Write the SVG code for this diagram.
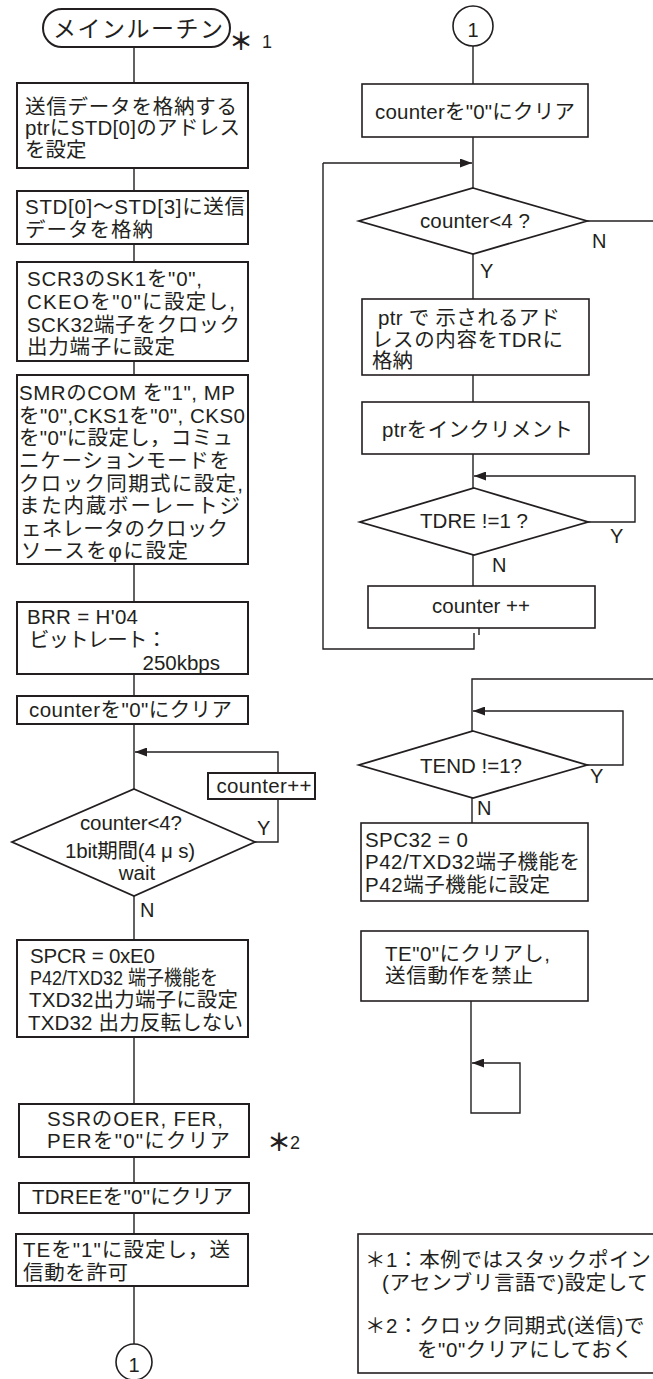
<svg xmlns="http://www.w3.org/2000/svg" width="653" height="1379" viewBox="0 0 653 1379">
<defs>
<style>
text{font-family:"Liberation Sans","Noto Sans CJK JP",sans-serif;font-size:20.5px;fill:#231f20}
.box{fill:#fff;stroke:#231f20;stroke-width:2}
.dia{fill:#fff;stroke:#231f20;stroke-width:1.8}
.ln{fill:none;stroke:#231f20;stroke-width:1.4}
.m{text-anchor:middle}
.e{text-anchor:end}
.lbl{font-size:20px}
.ast{font-size:24px;font-weight:bold}
</style>
<marker id="ah" viewBox="0 0 12 9" refX="12" refY="4.5" markerWidth="12" markerHeight="9" markerUnits="userSpaceOnUse" orient="auto">
<path d="M0,0 L12,4.5 L0,9 z" fill="#231f20"/>
</marker>
</defs>
<rect width="653" height="1379" fill="#fff"/>

<g id="connectors">
<path class="ln" d="M134,47 V83 M134,168 V191 M134,244 V262 M134,361 V375 M134,564 V602 M134,674 V696 M134,724 V789 M134,896 V940 M134,1037 V1104 M134,1157 V1183 M134,1213 V1234 M134,1286 V1344"/>
<path class="ln" d="M255,842 H278 V799"/>
<path class="ln" d="M278,773 V752 H135" marker-end="url(#ah)"/>
<path class="ln" d="M473,46 V84 M473,137 V188 M473,254 V299 M473,375 V402 M473,454 V488 M473,555 V586"/>
<path class="ln" d="M323,163 H472" marker-end="url(#ah)"/>
<path class="ln" d="M474,633 V649 H323 V163"/>
<path class="ln" d="M479,628 V635"/>
<path class="ln" d="M587,221 H653"/>
<path class="ln" d="M588,522 H635 V476 H474" marker-end="url(#ah)"/>
<path class="ln" d="M653,679 H472 V731"/>
<path class="ln" d="M587,765 H623 V711 H473" marker-end="url(#ah)"/>
<path class="ln" d="M472,798 V823"/>
<path class="ln" d="M471,1001 V1113 H520 V1063 H472" marker-end="url(#ah)"/>
</g>

<g id="start">
<rect class="box" x="43" y="9" width="187" height="38" rx="19"/>
<text x="138" y="37" class="m" style="font-size:23px" textLength="170">メインルーチン</text>
</g>
<g id="note1mark"><text x="229" y="50" class="ast">＊</text><text x="262" y="48" style="font-size:18px">1</text></g>

<g id="n1">
<rect class="box" x="17" y="83" width="231" height="85"/>
<text x="25" y="114" textLength="212">送信データを格納する</text>
<text x="25" y="135" textLength="215">ptrにSTD[0]のアドレス</text>
<text x="25" y="157">を設定</text>
</g>

<g id="n2">
<rect class="box" x="17" y="191" width="231" height="53"/>
<text x="25" y="214" textLength="220">STD[0]～STD[3]に送信</text>
<text x="25" y="237" textLength="128">データを格納</text>
</g>

<g id="n3">
<rect class="box" x="17" y="262" width="231" height="99"/>
<text x="27" y="286" textLength="175">SCR3のSK1を"0",</text>
<text x="27" y="309" textLength="208">CKEOを"0"に設定し,</text>
<text x="27" y="332" textLength="213">SCK32端子をクロック</text>
<text x="27" y="354" textLength="148">出力端子に設定</text>
</g>

<g id="n4">
<rect class="box" x="17" y="375" width="231" height="189"/>
<text x="19" y="400" textLength="216">SMRのCOM を"1", MP</text>
<text x="19" y="423" textLength="226">を"0",CKS1を"0", CKS0</text>
<text x="19" y="445" textLength="214">を"0"に設定し，コミュ</text>
<text x="19" y="468" textLength="211">ニケーションモードを</text>
<text x="19" y="491" textLength="224">クロック同期式に設定,</text>
<text x="19" y="513" textLength="221">また内蔵ボーレートジ</text>
<text x="21" y="536" textLength="207">ェネレータのクロック</text>
<text x="21" y="558" textLength="167">ソースをφに設定</text>
</g>

<g id="n5">
<rect class="box" x="17" y="602" width="231" height="72"/>
<text x="27" y="624" textLength="111">BRR = H'04</text>
<text x="29" y="647" textLength="138">ビットレート：</text>
<text x="220" y="670" class="e">250kbps</text>
</g>

<g id="n6">
<rect class="box" x="17" y="696" width="231" height="28"/>
<text x="130.5" y="717" class="m" textLength="203">counterを"0"にクリア</text>
</g>

<g id="n7">
<rect class="box" x="208" y="773" width="107" height="26"/>
<text x="264" y="793" class="m" textLength="95">counter++</text>
</g>

<g id="d1">
<polygon class="dia" points="134,789 255,842 134,896 12,842"/>
<text x="131" y="830" class="m" textLength="102">counter&lt;4?</text>
<text x="130" y="858" class="m" textLength="130">1bit期間(4 μ s)</text>
<text x="137" y="880" class="m">wait</text>
</g>
<text x="257" y="835" class="lbl">Y</text>
<text x="140" y="917" class="lbl">N</text>

<g id="n8">
<rect class="box" x="17" y="940" width="231" height="97"/>
<text x="30" y="963" textLength="125">SPCR = 0xE0</text>
<text x="30" y="985" textLength="188" lengthAdjust="spacingAndGlyphs">P42/TXD32 端子機能を</text>
<text x="29" y="1007" textLength="209">TXD32出力端子に設定</text>
<text x="28" y="1030" textLength="215">TXD32 出力反転しない</text>
</g>

<g id="n9">
<rect class="box" x="19" y="1104" width="230" height="53"/>
<text x="135" y="1126" class="m" textLength="176">SSRのOER, FER,</text>
<text x="138.5" y="1148" class="m" textLength="183">PERを"0"にクリア</text>
</g>
<g id="note2mark"><text x="267" y="1151" class="ast">＊</text><text x="290" y="1149" style="font-size:18px">2</text></g>

<g id="n10">
<rect class="box" x="19" y="1183" width="230" height="30"/>
<text x="132.5" y="1204" class="m" textLength="201">TDREEを"0"にクリア</text>
</g>

<g id="n11">
<rect class="box" x="16" y="1234" width="232" height="52"/>
<text x="23" y="1257" textLength="207">TEを"1"に設定し，送</text>
<text x="23" y="1280" textLength="105">信動を許可</text>
</g>

<g id="c1">
<circle cx="134" cy="1362" r="18" fill="#fff" stroke="#231f20" stroke-width="1.6"/>
<text x="134" y="1372" class="m lbl">1</text>
</g>

<g id="c2">
<circle cx="473" cy="26" r="20" fill="#fff" stroke="#231f20" stroke-width="1.6"/>
<text x="473" y="37" class="m lbl">1</text>
</g>

<g id="r1">
<rect class="box" x="362" y="84" width="226" height="53" style="stroke-width:1.6"/>
<text x="475" y="119" class="m" textLength="200">counterを"0"にクリア</text>
</g>

<g id="rd1">
<polygon class="dia" points="473,188 587,221 473,254 359,221"/>
<text x="475" y="228" class="m" textLength="110">counter&lt;4 ?</text>
</g>
<text x="592" y="248" class="lbl">N</text>
<text x="480" y="278" class="lbl">Y</text>

<g id="r2">
<rect class="box" x="362" y="299" width="227" height="76" style="stroke-width:1.6"/>
<text x="378" y="325" textLength="182">ptr で 示されるアド</text>
<text x="372" y="347" textLength="191">レスの内容をTDRに</text>
<text x="372" y="368">格納</text>
</g>

<g id="r3">
<rect class="box" x="362" y="402" width="227" height="52" style="stroke-width:1.6"/>
<text x="477.5" y="437" class="m" textLength="191">ptrをインクリメント</text>
</g>

<g id="rd2">
<polygon class="dia" points="474,488 588,522 474,555 360,522"/>
<text x="474" y="528" class="m" textLength="108">TDRE !=1 ?</text>
</g>
<text x="610" y="543" class="lbl">Y</text>
<text x="492" y="572" class="lbl">N</text>

<g id="r4">
<rect class="box" x="368" y="586" width="227" height="42" style="stroke-width:1.6"/>
<text x="481" y="613" class="m" textLength="98">counter ++</text>
</g>

<g id="rd3">
<polygon class="dia" points="473,731 587,765 473,798 359,765"/>
<text x="471" y="773" class="m" textLength="102">TEND !=1?</text>
</g>
<text x="590" y="783" class="lbl">Y</text>
<text x="477" y="815" class="lbl">N</text>

<g id="r5">
<rect class="box" x="361" y="823" width="227" height="78" style="stroke-width:1.6"/>
<text x="365" y="847" textLength="103">SPC32 = 0</text>
<text x="365" y="869" textLength="215">P42/TXD32端子機能を</text>
<text x="365" y="892" textLength="185">P42端子機能に設定</text>
</g>

<g id="r6">
<rect class="box" x="361" y="931" width="227" height="70" style="stroke-width:1.6"/>
<text x="385" y="961" textLength="165">TE"0"にクリアし,</text>
<text x="385" y="983" textLength="148">送信動作を禁止</text>
</g>

<g id="notes">
<rect x="358" y="1234" width="310" height="139" fill="#fff" stroke="#231f20" stroke-width="1.6"/>
<text x="365" y="1267" style="letter-spacing:0.6px">＊1：本例ではスタックポイン</text>
<text x="382" y="1290" style="letter-spacing:0.6px">(アセンブリ言語で)設定して</text>
<text x="365" y="1333" style="letter-spacing:0.6px">＊2：クロック同期式(送信)で</text>
<text x="417" y="1357" style="letter-spacing:0.6px">を"0"クリアにしておく</text>
</g>
</svg>
